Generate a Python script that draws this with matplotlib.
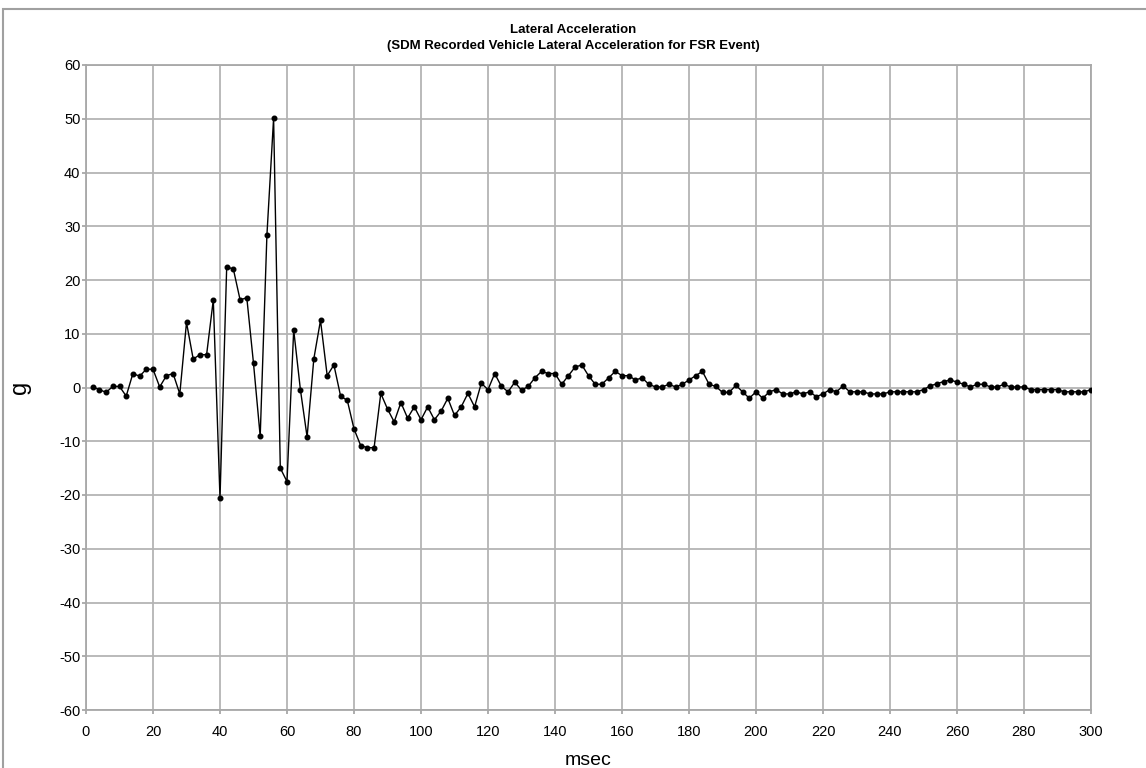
import matplotlib
matplotlib.use('Agg')
import matplotlib.pyplot as plt
from matplotlib.patches import Rectangle

# time stamps, msec (every 2 msec)
msec = list(range(2, 302, 2))

# lateral acceleration, g
accel = [
    0.1, -0.4, -0.9, 0.2, 0.2, -1.6, 2.6, 2.1, 3.4, 3.4,          # 2-20
    0.1, 2.2, 2.6, -1.2, 12.1, 5.3, 6.1, 6.1, 16.3, -20.6,        # 22-40
    22.5, 22.0, 16.3, 16.7, 4.5, -9.1, 28.3, 50.1, -15.0, -17.5,  # 42-60
    10.7, -0.4, -9.2, 5.3, 12.5, 2.2, 4.2, -1.6, -2.4, -7.7,      # 62-80
    -10.8, -11.2, -11.2, -1.1, -4.0, -6.4, -2.8, -5.7, -3.6, -6.0,  # 82-100
    -3.6, -6.0, -4.4, -2.0, -5.2, -3.6, -1.1, -3.6, 0.8, -0.4,    # 102-120
    2.6, 0.2, -0.8, 1.0, -0.5, 0.2, 1.8, 3.0, 2.6, 2.6,           # 122-140
    0.6, 2.2, 3.8, 4.2, 2.2, 0.6, 0.6, 1.8, 3.0, 2.2,             # 142-160
    2.2, 1.4, 1.8, 0.6, 0.1, 0.1, 0.6, 0.1, 0.6, 1.4,             # 162-180
    2.2, 3.0, 0.6, 0.2, -0.9, -0.9, 0.4, -0.8, -2.0, -0.8,        # 182-200
    -2.0, -0.8, -0.4, -1.2, -1.2, -0.8, -1.2, -0.8, -1.7, -1.2,   # 202-220
    -0.4, -0.8, 0.3, -0.8, -0.8, -0.8, -1.2, -1.2, -1.2, -0.8,    # 222-240
    -0.8, -0.8, -0.8, -0.8, -0.4, 0.3, 0.7, 1.1, 1.4, 1.0,        # 242-260
    0.6, 0.1, 0.6, 0.6, 0.1, 0.1, 0.6, 0.1, 0.1, 0.1,             # 262-280
    -0.4, -0.4, -0.4, -0.4, -0.4, -0.8, -0.8, -0.8, -0.8, -0.4,   # 282-300
]

x_ticks = list(range(0, 301, 20))
y_ticks = list(range(-60, 61, 10))

plt.rcParams['font.family'] = ['Liberation Sans', 'DejaVu Sans']
plt.rcParams['axes.unicode_minus'] = False

fig = plt.figure(figsize=(11.46, 7.68), dpi=100)

# outer frame of the original report graphic
fig.patches.append(Rectangle((3 / 1146, -0.1), 1.2, 1.1 - 9 / 768,
                             transform=fig.transFigure, fill=False,
                             edgecolor='#a0a0a0', linewidth=1.5))

ax = fig.add_axes([86 / 1146, 1 - 710 / 768, (1091 - 86) / 1146, (710 - 65) / 768])

ax.plot(msec, accel, color='black', linewidth=1.0,
        marker='o', markersize=3.3, zorder=3)

ax.set_xlim(0, 300)
ax.set_ylim(-60, 60)
ax.set_xticks(x_ticks)
ax.set_yticks(y_ticks)
ax.tick_params(labelsize=10.5, length=3, color='#a0a0a0', width=1.2, pad=1)
ax.tick_params(axis='x', pad=8)

ax.grid(True, color='#b4b4b4', linewidth=1.3)
ax.set_axisbelow(True)
for s in ax.spines.values():
    s.set_color('#a8a8a8')
    s.set_linewidth(1.3)

ax.set_xlabel('msec', fontsize=14, labelpad=9)
ax.set_ylabel('g', fontsize=17, labelpad=20)

fig.text(0.5, 1 - 30 / 768, 'Lateral Acceleration', ha='center', va='center',
         fontsize=9.5, fontweight='bold')
fig.text(0.5, 1 - 46 / 768,
         '(SDM Recorded Vehicle Lateral Acceleration for FSR Event)',
         ha='center', va='center', fontsize=9.5, fontweight='bold')

plt.savefig('out.png', dpi=100)
plt.close()
